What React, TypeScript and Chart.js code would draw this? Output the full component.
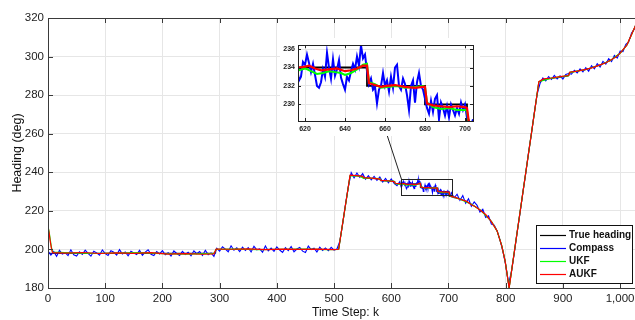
import React, { useEffect, useRef } from 'react';
import { Chart, registerables } from 'chart.js';

Chart.register(...registerables);

const FONT = "'Liberation Sans', Arial, Helvetica, sans-serif";

// ---------- axis ticks ----------
const xTicks = [0, 100, 200, 300, 400, 500, 600, 700, 800, 900, 1000];
const yTicks = [180, 200, 220, 240, 260, 280, 300, 320];
const insetXTicks = [620, 640, 660, 680, 700];
const insetYTicks = [230, 232, 234, 236];

// ---------- legend ----------
const seriesNames = ['True heading', 'Compass', 'UKF', 'AUKF'];
const seriesColors = ['#000000', '#0000ff', '#00ff00', '#ff0000'];

// ---------- True heading ----------
const trueK = [0, 292, 293, 508, 528, 550, 551, 580, 581, 605, 606, 651, 651, 680, 680, 701, 701, 720, 732, 740, 755, 765, 775, 785, 793, 799, 803, 806, 858, 870, 900, 910, 911, 940, 965, 983, 1000, 1012, 1026, 1040];
const trueVals = [198, 198, 200, 200, 238.4, 238, 237, 236.6, 235.6, 235.4, 234, 234, 232, 232, 230, 230, 227.6, 226.2, 224.8, 223.5, 220.5, 218, 214.5, 209.5, 202, 194, 186, 180, 287, 288.3, 289.5, 290, 291.8, 293.2, 295.6, 298, 301.7, 306, 315.5, 326];

// ---------- Compass (k = 0..615 step 5, 617..704 step 1, 705..1040 step 5) ----------
const compassStep = 5;
const compassAStart = 0;
const compassA = [
  199.2, 197.1, 198.9, 196.4, 199.5, 197.6, 198.3, 196.8, 199.8, 197.2,
  196.6, 198.8, 197.4, 199.6, 197.9, 196.5, 199.1, 198.2, 197.0, 199.7,
  197.8, 196.9, 199.3, 198.5, 197.1, 199.9, 197.6, 198.7, 196.7, 199.0,
  198.1, 197.3, 199.5, 197.0, 198.6, 199.8, 197.5, 196.8, 198.9, 197.7,
  199.4, 197.2, 198.3, 196.6, 199.2, 197.9, 196.9, 199.0, 197.4, 198.5,
  196.7, 199.3, 197.8, 198.9, 196.9, 199.6, 197.3, 198.2, 196.4, 200.6,
  199.1, 201.4, 200.2, 198.8, 201.9, 199.6, 200.8, 198.9, 201.2, 199.5,
  200.9, 198.7, 201.6, 199.8, 200.3, 198.6, 201.8, 199.2, 200.7, 199.0,
  201.3, 199.7, 198.5, 200.9, 199.4, 201.5, 198.8, 200.2, 201.0, 199.1,
  198.4, 201.7, 199.9, 200.6, 198.7, 201.2, 199.5, 200.8, 199.3, 201.1,
  199.6, 200.2, 204.1, 213.2, 223.3, 232.4, 239.8, 237.1, 239.6, 237.4,
  239.3, 236.4, 238.2, 236.1, 237.9, 235.8, 237.6, 234.9, 236.8, 234.6,
  236.6, 234.3, 233.1, 235.2,
];
const compassZoomStart = 617;
const compassZoom = [
  232.6, 233.0, 234.6, 234.3, 235.4, 234.5, 233.5, 234.4, 233.2, 232.0,
  231.8, 232.4, 233.8, 233.0, 235.6, 234.0, 232.8, 234.9, 233.1, 233.8,
  234.8, 232.9, 232.2, 231.6, 233.0, 232.6, 233.6, 234.4, 233.8, 235.2,
  234.2, 236.4, 235.0, 235.4, 233.6, 232.2, 232.8, 231.6, 231.9, 230.1,
  231.6, 232.0, 233.4, 232.0, 232.6, 231.4, 233.0, 231.8, 234.0, 234.3,
  232.0, 231.6, 232.8, 232.2, 231.0, 229.4, 232.0, 232.6, 230.2, 232.4,
  233.4, 232.0, 231.6, 230.6, 229.6, 229.0, 230.4, 229.2, 230.6, 231.0,
  228.4, 230.2, 229.6, 228.8, 229.8, 228.6, 230.0, 229.4, 228.8, 229.6,
  229.0, 230.2, 229.4, 230.0, 228.6, 228.2, 227.6, 228.4,
];
const compassBStart = 705;
const compassB = [
  229.4, 226.8, 228.6, 225.4, 227.9, 223.9, 226.3, 222.4, 224.6, 222.9,
  219.4, 220.8, 216.6, 217.4, 213.2, 212.6, 209.6, 205.0, 199.3, 192.0,
  182.3, 188.5, 198.2, 209.0, 218.8, 229.6, 239.4, 250.3, 260.1, 270.8, 280.5,
  286.0, 288.9, 287.4, 289.6, 288.1, 290.2, 288.4, 290.0, 288.3, 290.7,
  291.2, 290.9, 292.9, 291.5, 293.6, 292.1, 294.3, 292.4, 295.3, 293.6,
  296.3, 294.6, 297.5, 296.1, 298.9, 297.4, 300.6, 299.2, 302.8, 302.6,
  306.4, 307.6, 312.2, 314.3, 318.5, 322.0, 327.0,
];

// ---------- UKF ----------
const ukfK = [0, 2, 4, 6, 8, 40, 80, 120, 160, 200, 240, 280, 290, 294, 330, 370, 410, 450, 490, 508, 528, 545, 551, 580, 582, 605, 607,
  617, 620, 623, 626, 629, 632, 635, 638, 640, 643, 646, 649, 651, 652, 655, 658, 662, 666, 670, 675, 679, 680, 681, 684, 688, 692, 696, 700, 701, 702,
  705, 720, 740, 755, 775, 785, 793, 799, 803, 806, 858, 880, 910, 912, 940, 965, 983, 1000, 1012, 1026, 1040];
const ukfVals = [212, 209, 205, 201, 198.6, 198.2, 197.9, 198.1, 198.3, 197.8, 197.6, 197.8, 197.9, 200.0, 200.2, 199.9, 200.1, 200.2, 199.9, 200.0, 238.2, 238.0, 237.0, 236.7, 235.8, 235.3, 234.1,
  233.7, 233.9, 233.6, 233.3, 233.4, 233.6, 233.5, 233.4, 233.2, 233.4, 233.8, 234.3, 234.4, 232.4, 232.2, 231.8, 231.9, 232.0, 231.8, 231.9, 232.0, 231.9, 230.2, 229.7, 229.5, 229.6, 229.4, 229.4, 229.3, 227.8,
  227.5, 226.1, 223.4, 220.6, 214.6, 209.5, 202.1, 194.1, 186.1, 180.2, 287, 288.8, 290.1, 291.7, 293.3, 295.6, 298.0, 301.7, 306.0, 315.4, 326];

// ---------- AUKF ----------
const aukfK = [0, 2, 4, 6, 8, 30, 60, 90, 120, 150, 180, 210, 240, 270, 290, 294, 320, 350, 380, 410, 440, 470, 500, 508, 528, 540, 550, 552, 566, 580, 582, 594, 605, 607,
  617, 620, 622, 625, 628, 632, 636, 640, 643, 646, 649, 651, 652, 655, 658, 661, 665, 670, 675, 679, 680, 681, 684, 688, 692, 696, 700, 701, 702,
  705, 712, 720, 732, 740, 748, 755, 765, 775, 785, 793, 799, 803, 806, 858, 866, 880, 895, 910, 912, 925, 940, 952, 965, 975, 983, 992, 1000, 1012, 1026, 1040];
const aukfVals = [212, 208.5, 204, 200.5, 198.3, 198.1, 198.4, 197.9, 198.2, 198.0, 198.3, 197.6, 197.8, 197.5, 197.7, 200.2, 200.1, 200.3, 199.9, 200.2, 200.0, 200.2, 199.9, 200.1, 238.5, 238.3, 237.9, 237.2, 237.0, 236.5, 235.8, 235.6, 235.2, 234.3,
  234.0, 234.1, 234.2, 233.9, 233.7, 233.8, 233.9, 233.6, 233.7, 233.9, 234.2, 234.2, 232.3, 232.1, 231.9, 232.0, 232.1, 231.9, 231.8, 231.9, 231.9, 230.1, 229.9, 229.8, 229.7, 229.8, 229.7, 229.6, 228.0,
  227.5, 227.0, 226.0, 224.9, 223.2, 222.0, 220.4, 218.1, 214.4, 209.6, 202, 194, 186, 180, 287, 288.4, 288.9, 289.6, 290.2, 291.9, 292.5, 293.4, 294.3, 295.7, 296.8, 298.1, 299.6, 301.8, 306.1, 315.5, 326];

// ---------- zoom window (data coordinates) ----------
const zoomBox = { xMin: 617, xMax: 707, yMin: 228, yMax: 236.4 };
const connectorEnd = { x: 593, y: 259 };

const pts = (ks: number[], vs: number[]) => ks.map((k, i) => ({ x: k, y: vs[i] }));
const compassPoints = () => [
  ...compassA.map((v, i) => ({ x: compassAStart + i * compassStep, y: v })),
  ...compassZoom.map((v, i) => ({ x: compassZoomStart + i, y: v })),
  ...compassB.map((v, i) => ({ x: compassBStart + i * compassStep, y: v })),
];

const AXIS = '#3a3a3a';
const GRID = '#e6e6e6';

function makeDatasets(widths: number[]) {
  const data = [pts(trueK, trueVals), compassPoints(), pts(ukfK, ukfVals), pts(aukfK, aukfVals)];
  return data.map((d, i) => ({
    label: seriesNames[i],
    data: d,
    borderColor: seriesColors[i],
    backgroundColor: seriesColors[i],
    borderWidth: widths[i],
    pointRadius: 0,
    tension: 0,
    fill: false,
    order: 3 - i,
    clip: 0,
  }));
}

const mainDecor = {
  id: 'mainDecor',
  afterDraw(chart: any) {
    const { ctx, chartArea: a, scales } = chart;
    const x = scales.x, y = scales.y;
    ctx.save();
    ctx.strokeStyle = AXIS;
    ctx.lineWidth = 1;
    ctx.strokeRect(Math.round(a.left) + 0.5, Math.round(a.top) + 0.5, Math.round(a.right - a.left), Math.round(a.bottom - a.top));
    ctx.beginPath();
    for (const v of xTicks) {
      const px = Math.round(x.getPixelForValue(v)) + 0.5;
      ctx.moveTo(px, a.bottom); ctx.lineTo(px, a.bottom - 5);
      ctx.moveTo(px, a.top); ctx.lineTo(px, a.top + 5);
    }
    for (const v of yTicks) {
      const py = Math.round(y.getPixelForValue(v)) + 0.5;
      ctx.moveTo(a.left, py); ctx.lineTo(a.left + 5, py);
      ctx.moveTo(a.right, py); ctx.lineTo(a.right - 5, py);
    }
    ctx.stroke();

    // zoom rectangle
    const rx1 = Math.round(x.getPixelForValue(zoomBox.xMin)) + 0.5;
    const rx2 = Math.round(x.getPixelForValue(zoomBox.xMax)) + 0.5;
    const ry1 = Math.round(y.getPixelForValue(zoomBox.yMax)) + 0.5;
    const ry2 = Math.round(y.getPixelForValue(zoomBox.yMin)) + 0.5;
    ctx.strokeStyle = '#222';
    ctx.strokeRect(rx1, ry1, rx2 - rx1, ry2 - ry1);
    // connector
    ctx.beginPath();
    ctx.moveTo(x.getPixelForValue(zoomBox.xMin + 1), ry1);
    ctx.lineTo(x.getPixelForValue(connectorEnd.x), y.getPixelForValue(connectorEnd.y));
    ctx.stroke();

    // legend
    const L = { left: 536, top: 225, width: 96, height: 58, row0: 234.5, gap: 13, lineX1: 540, lineX2: 566, textX: 569 };
    ctx.fillStyle = '#fff';
    ctx.fillRect(L.left, L.top, L.width, L.height);
    ctx.strokeStyle = '#111';
    ctx.strokeRect(L.left + 0.5, L.top + 0.5, L.width, L.height);
    ctx.font = `bold 10px ${FONT}`;
    ctx.textBaseline = 'middle';
    ctx.textAlign = 'left';
    seriesNames.forEach((name, i) => {
      const yy = Math.round(L.row0 + i * L.gap) + 0.5;
      ctx.strokeStyle = seriesColors[i];
      ctx.lineWidth = 1.2;
      ctx.beginPath();
      ctx.moveTo(L.lineX1, yy); ctx.lineTo(L.lineX2, yy);
      ctx.stroke();
      ctx.fillStyle = '#111';
      ctx.fillText(name, L.textX, yy);
    });
    ctx.restore();
  },
};

const insetDecor = {
  id: 'insetDecor',
  beforeDraw(chart: any) {
    const { ctx, width, height } = chart;
    ctx.save();
    ctx.fillStyle = '#fff';
    ctx.fillRect(0, 0, width, height);
    ctx.restore();
  },
  afterDraw(chart: any) {
    const { ctx, chartArea: a, scales } = chart;
    const x = scales.x, y = scales.y;
    ctx.save();
    ctx.strokeStyle = '#222';
    ctx.lineWidth = 1;
    ctx.strokeRect(Math.round(a.left) + 0.5, Math.round(a.top) + 0.5, Math.round(a.right - a.left), Math.round(a.bottom - a.top));
    ctx.beginPath();
    for (const v of insetXTicks) {
      const px = Math.round(x.getPixelForValue(v)) + 0.5;
      ctx.moveTo(px, a.bottom); ctx.lineTo(px, a.bottom - 3);
      ctx.moveTo(px, a.top); ctx.lineTo(px, a.top + 3);
    }
    for (const v of insetYTicks) {
      const py = Math.round(y.getPixelForValue(v)) + 0.5;
      ctx.moveTo(a.left, py); ctx.lineTo(a.left + 3, py);
      ctx.moveTo(a.right, py); ctx.lineTo(a.right - 3, py);
    }
    ctx.stroke();
    ctx.restore();
  },
};

function mainConfig(): any {
  return {
    type: 'line',
    data: { datasets: makeDatasets([1, 1.1, 1.2, 1.2]) },
    options: {
      responsive: false,
      animation: false,
      devicePixelRatio: 1,
      events: [],
      layout: { padding: { top: 18, right: 17, left: 0, bottom: 0 } },
      plugins: { legend: { display: false }, tooltip: { enabled: false } },
      scales: {
        x: {
          type: 'linear', min: 0, max: 1040,
          afterBuildTicks: (s: any) => { s.ticks = xTicks.map((v) => ({ value: v })); },
          afterFit: (s: any) => { s.height = 32; },
          grid: { color: GRID, drawTicks: false },
          border: { display: false },
          ticks: { font: { family: FONT, size: 11.5 }, color: '#222', padding: 4, maxRotation: 0, autoSkip: false },
          title: { display: true, text: 'Time Step: k', font: { family: FONT, size: 12 }, color: '#111', padding: { top: 0, bottom: 0 } },
        },
        y: {
          type: 'linear', min: 180, max: 320,
          afterBuildTicks: (s: any) => { s.ticks = yTicks.map((v) => ({ value: v })); },
          afterFit: (s: any) => { s.width = 48; },
          grid: { color: GRID, drawTicks: false },
          border: { display: false },
          ticks: { font: { family: FONT, size: 11.5 }, color: '#222', padding: 4, autoSkip: false },
          title: { display: true, text: 'Heading (deg)', font: { family: FONT, size: 12.5 }, color: '#111', padding: { top: 10, bottom: 0 } },
        },
      },
    },
    plugins: [mainDecor],
  };
}

function insetConfig(): any {
  return {
    type: 'line',
    data: { datasets: makeDatasets([1.8, 2, 2, 2.2]) },
    options: {
      responsive: false,
      animation: false,
      devicePixelRatio: 1,
      events: [],
      layout: { padding: { top: 5, right: 7, left: 0, bottom: 0 } },
      plugins: { legend: { display: false }, tooltip: { enabled: false } },
      scales: {
        x: {
          type: 'linear', min: 616.5, max: 704,
          afterBuildTicks: (s: any) => { s.ticks = insetXTicks.map((v) => ({ value: v })); },
          afterFit: (s: any) => { s.height = 15; },
          grid: { color: GRID, drawTicks: false },
          border: { display: false },
          ticks: { font: { family: FONT, size: 7, weight: 'bold' }, color: '#222', padding: 4, maxRotation: 0, autoSkip: false },
        },
        y: {
          type: 'linear', min: 228.2, max: 236.42,
          afterBuildTicks: (s: any) => { s.ticks = insetYTicks.map((v) => ({ value: v })); },
          afterFit: (s: any) => { s.width = 18; },
          grid: { color: GRID, drawTicks: false },
          border: { display: false },
          ticks: { font: { family: FONT, size: 7, weight: 'bold' }, color: '#222', padding: 3, autoSkip: false },
        },
      },
    },
    plugins: [insetDecor],
  };
}

export default function App() {
  const mainRef = useRef<HTMLCanvasElement>(null);
  const insetRef = useRef<HTMLCanvasElement>(null);
  useEffect(() => {
    const main = new Chart(mainRef.current as HTMLCanvasElement, mainConfig());
    const inset = new Chart(insetRef.current as HTMLCanvasElement, insetConfig());
    return () => {
      main.destroy();
      inset.destroy();
    };
  }, []);
  return (
    <div style={{ position: 'fixed', left: 0, top: 0, width: 635, height: 320, overflow: 'hidden', background: '#fff' }}>
      <canvas ref={mainRef} width={660} height={320} style={{ position: 'absolute', left: 0, top: 0, width: 660, height: 320 }} />
      <canvas ref={insetRef} width={200} height={98} style={{ position: 'absolute', left: 280, top: 38, width: 200, height: 98 }} />
    </div>
  );
}
